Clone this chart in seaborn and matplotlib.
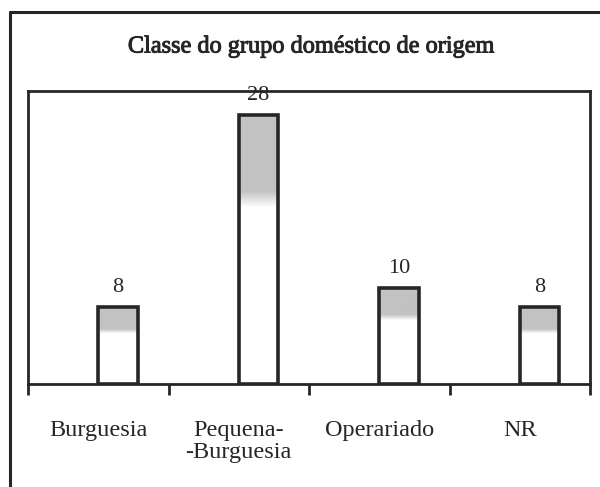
import numpy as np
import pandas as pd
import matplotlib
matplotlib.use('Agg')
import matplotlib.pyplot as plt
import matplotlib.patheffects as pe
from matplotlib.colors import LinearSegmentedColormap
from matplotlib.lines import Line2D
import seaborn as sns

categories = ['Burguesia', 'Pequena-\n-Burguesia', 'Operariado', 'NR']
values = [8, 28, 10, 8]
title = 'Classe do grupo doméstico de origem'

df = pd.DataFrame({'classe': categories, 'n': values})

sns.set_style('white')
plt.rcParams['font.family'] = ['Liberation Serif', 'DejaVu Serif']
ink = '#262626'

fig = plt.figure(figsize=(6, 4.87), dpi=100)
ax = fig.add_axes([28/600, 1-384/487, 562/600, 293/487])

sns.barplot(data=df, x='classe', y='n', width=0.28, color='white',
            edgecolor=ink, linewidth=2.6, ax=ax, zorder=3)

# bars sit to the right of the category centre, grey shading at the top
shade = LinearSegmentedColormap.from_list('shade', ['#ffffff', '#c2c2c2'])
for p in ax.patches:
    p.set_x(p.get_x() + p.get_width()/2)
    p.set_facecolor('none')
    x0, w, h = p.get_x(), p.get_width(), p.get_height()
    prof = np.clip((np.linspace(0, 1, 80) - 0.66) / 0.06, 0, 1)[:, None]
    im = ax.imshow(prof, extent=[x0, x0+w, 0, h], origin='lower', aspect='auto',
                   cmap=shade, vmin=0, vmax=1, zorder=2, interpolation='bilinear')
    im.set_clip_path(p)

ax.bar_label(ax.containers[0], padding=7, fontsize=16, color=ink)

ax.set_xlim(-0.5, 3.5)
ax.set_ylim(0, 30.5)
ax.set_xlabel('')
ax.set_ylabel('')
ax.set_yticks([])
ax.set_xticks(range(len(categories)))
ax.set_xticklabels(categories, fontsize=17.5, color=ink)
for t in ax.get_xticklabels():
    t.set_linespacing(1.05)
ax.set_xticks(np.arange(-0.5, 4, 1), minor=True)
ax.tick_params(axis='x', which='major', bottom=True, length=0, pad=26)
ax.tick_params(axis='x', which='minor', bottom=True, length=8, width=2,
               color=ink, direction='out')
for s in ax.spines.values():
    s.set_visible(True)
    s.set_color(ink)
    s.set_linewidth(2)
ax.set_facecolor('white')

# outer frame of the page
fy = 1 - 12/487
fx = 10/600
fig.add_artist(Line2D([fx, 1], [fy, fy], transform=fig.transFigure, color=ink, lw=2.2))
fig.add_artist(Line2D([fx, fx], [0, fy], transform=fig.transFigure, color=ink, lw=2.2))

fig.text(311/600, 1-47/487, title, ha='center', va='center', fontsize=17.5, color=ink,
         path_effects=[pe.withStroke(linewidth=0.7, foreground=ink)])

fig.savefig('out.png', dpi=100, facecolor='white')
